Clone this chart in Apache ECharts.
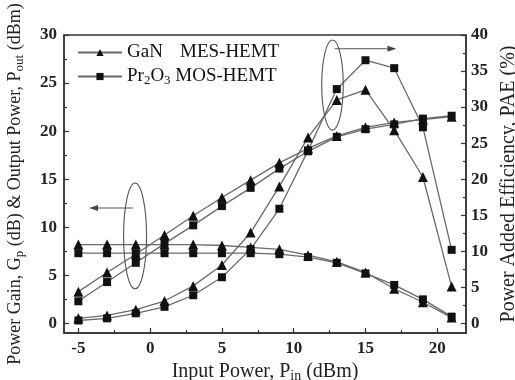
<!DOCTYPE html>
<html><head><meta charset="utf-8">
<script src="https://cdn.jsdelivr.net/npm/echarts@6/dist/echarts.min.js"></script>
<style>html,body{margin:0;padding:0;background:#fff}#c{width:515px;height:380px}</style>
</head><body><div id="c"></div>
<script>
// Input power (dBm)
const pin = [-5, -3, -1, 1, 3, 5, 7, 9, 11, 13, 15, 17, 19, 21];
// GaN MES-HEMT
const ganGain = [8.2, 8.2, 8.2, 8.2, 8.2, 8.1, 7.9, 7.7, 7.1, 6.4, 5.3, 3.6, 2.2, 0.6];
const ganPout = [3.3, 5.3, 7.2, 9.2, 11.2, 13.1, 14.9, 16.7, 18.2, 19.5, 20.4, 20.9, 21.2, 21.5];
const ganPAE  = [0.7, 1.1, 1.9, 3.1, 5.2, 8.1, 12.6, 19.0, 25.8, 31.0, 32.4, 26.8, 20.3, 5.1];
// Pr2O3 MOS-HEMT
const prGain = [7.3, 7.3, 7.3, 7.3, 7.3, 7.3, 7.3, 7.2, 6.9, 6.3, 5.2, 4.0, 2.5, 0.7];
const prPout = [2.3, 4.3, 6.3, 8.3, 10.2, 12.2, 14.1, 16.1, 17.9, 19.4, 20.2, 20.7, 21.3, 21.6];
const prPAE  = [0.4, 0.7, 1.4, 2.3, 3.9, 6.4, 10.3, 15.9, 24.0, 32.5, 36.5, 35.4, 27.2, 10.2];
// ticks
const xTicks = [-5, 0, 5, 10, 15, 20];
const xMinor = [-2.5, 2.5, 7.5, 12.5, 17.5];
const yLTicks = [0, 5, 10, 15, 20, 25, 30];
const yLMinor = [2.5, 7.5, 12.5, 17.5, 22.5, 27.5];
const yRTicks = [0, 5, 10, 15, 20, 25, 30, 35, 40];
const yRMinor = [2.5, 7.5, 12.5, 17.5, 22.5, 27.5, 32.5, 37.5];

const FF = 'Liberation Serif';
const AX = '#333';
const pair = (ys) => pin.map((x, i) => [x, ys[i]]);
const chart = echarts.init(document.getElementById('c'));

const subRich = (fs) => ({ s: { fontFamily: FF, fontSize: fs, verticalAlign: 'bottom', padding: [8, 0, 0, 0], color: '#222' } });
const baseAxisLine = { show: true, onZero: false, lineStyle: { color: AX, width: 1.5 } };
const noLine = { show: false, onZero: false };

function mkSeries(name, data, sym, yIdx, size) {
  return {
    name, type: 'line', data: pair(data), yAxisIndex: yIdx, xAxisIndex: 0,
    symbol: sym, symbolSize: size, showSymbol: true,
    lineStyle: { color: '#6a6a6a', width: 1.3 },
    itemStyle: { color: '#111' }, animation: false
  };
}

const xMin = -6, xMax = 22, yLMin = -1, yLMax = 30, yRMin = -4 / 3, yRMax = 40;
const tickLbl = (m) => ({ margin: m, fontFamily: FF, fontWeight: 'bold', fontSize: 17, color: '#222' });

chart.setOption({
  animation: false,
  grid: { left: 64, right: 49, top: 35, bottom: 47, containLabel: false, outerBoundsMode: 'none',
    show: true, borderColor: AX, borderWidth: 1.5, backgroundColor: 'transparent' },
  legend: {
    left: 72, top: 38, orient: 'vertical', itemWidth: 44, itemHeight: 9, itemGap: 5,
    data: ['GaN', 'Pr2O3'],
    textStyle: { fontFamily: FF, fontSize: 19, color: '#111',
      rich: {
        a: { fontFamily: FF, fontSize: 19, width: 53 },
        b: { fontFamily: FF, fontSize: 19 },
        s: { fontFamily: FF, fontSize: 13, verticalAlign: 'bottom', padding: [9, 0, 0, 0] }
      } },
    formatter: (n) => n === 'GaN' ? '{a|GaN}{b|MES-HEMT}' : '{b|Pr}{s|2}{b|O}{s|3}{b| MOS-HEMT}'
  },
  xAxis: [
    { type: 'value', min: xMin, max: xMax, position: 'bottom',
      name: 'Input Power, P{s|in} (dBm)', nameLocation: 'middle', nameGap: 24,
      nameTextStyle: { fontFamily: FF, fontSize: 20, color: '#222', rich: subRich(14) },
      axisLine: baseAxisLine, splitLine: { show: false },
      axisTick: { show: true, inside: true, length: 5, customValues: xTicks, lineStyle: { color: AX, width: 1.2 } },
      axisLabel: Object.assign({ customValues: xTicks }, tickLbl(7)) },
    { type: 'value', min: xMin, max: xMax, position: 'bottom', offset: 0,
      axisLine: noLine, splitLine: { show: false },
      axisTick: { show: true, inside: true, length: 3, customValues: xMinor, lineStyle: { color: AX, width: 1.2 } },
      axisLabel: { show: false } }
  ],
  yAxis: [
    { type: 'value', min: yLMin, max: yLMax, position: 'left',
      name: 'Power Gain, G{s|p} (dB) & Output Power, P{s|out} (dBm)', nameLocation: 'middle', nameGap: 38, nameRotate: 90,
      nameTextStyle: { fontFamily: FF, fontSize: 18, color: '#222', rich: subRich(13) },
      axisLine: baseAxisLine, splitLine: { show: false },
      axisTick: { show: true, inside: true, length: 5, customValues: yLTicks, lineStyle: { color: AX, width: 1.2 } },
      axisLabel: Object.assign({ customValues: yLTicks }, tickLbl(7)) },
    { type: 'value', min: yRMin, max: yRMax, position: 'right',
      name: 'Power Added Efficiency, PAE (%)', nameLocation: 'middle', nameGap: 32, nameRotate: 90,
      nameTextStyle: { fontFamily: FF, fontSize: 20, color: '#222' },
      axisLine: baseAxisLine, splitLine: { show: false },
      axisTick: { show: true, inside: true, length: 5, customValues: yRTicks, lineStyle: { color: AX, width: 1.2 } },
      axisLabel: Object.assign({ customValues: yRTicks }, tickLbl(5)) },
    { type: 'value', min: yLMin, max: yLMax, position: 'left', offset: 0,
      axisLine: noLine, splitLine: { show: false },
      axisTick: { show: true, inside: true, length: 3, customValues: yLMinor, lineStyle: { color: AX, width: 1.2 } },
      axisLabel: { show: false } },
    { type: 'value', min: yRMin, max: yRMax, position: 'right', offset: 0,
      axisLine: noLine, splitLine: { show: false },
      axisTick: { show: true, inside: true, length: 3, customValues: yRMinor, lineStyle: { color: AX, width: 1.2 } },
      axisLabel: { show: false } }
  ],
  series: [
    mkSeries('GaN', ganGain, 'triangle', 0, 10),
    mkSeries('GaN', ganPout, 'triangle', 0, 10),
    mkSeries('GaN', ganPAE, 'triangle', 1, 10),
    mkSeries('Pr2O3', prGain, 'rect', 0, 8),
    mkSeries('Pr2O3', prPout, 'rect', 0, 8),
    mkSeries('Pr2O3', prPAE, 'rect', 1, 8)
  ]
});

// annotations: ellipses grouping curves and arrows pointing to their axes
function px(x, y, yIdx) { return chart.convertToPixel({ xAxisIndex: 0, yAxisIndex: yIdx }, [x, y]); }
function ellipse(x0, x1, y0, y1, yIdx) {
  const a = px(x0, y0, yIdx), b = px(x1, y1, yIdx);
  return { type: 'ellipse', shape: { cx: (a[0] + b[0]) / 2, cy: (a[1] + b[1]) / 2, rx: Math.abs(b[0] - a[0]) / 2, ry: Math.abs(b[1] - a[1]) / 2 },
    style: { fill: 'none', stroke: '#555', lineWidth: 1.1 }, z: 10 };
}
function arrow(xFrom, xTo, y, yIdx) {
  const a = px(xFrom, y, yIdx), b = px(xTo, y, yIdx);
  const dir = Math.sign(b[0] - a[0]);
  const hl = 9, hw = 3;
  return [
    { type: 'line', shape: { x1: a[0], y1: a[1], x2: b[0] - dir * hl, y2: b[1] }, style: { stroke: '#555', lineWidth: 1.1 }, z: 10 },
    { type: 'polygon', shape: { points: [[b[0], b[1]], [b[0] - dir * hl, b[1] - hw], [b[0] - dir * hl, b[1] + hw]] }, style: { fill: '#444' }, z: 10 }
  ];
}
chart.setOption({ graphic: [
  ellipse(-1.85, -0.25, 3.6, 14.6, 0),
  ...arrow(-1.2, -4.25, 12.0, 0),
  ellipse(11.95, 13.45, 26.8, 39.3, 1),
  ...arrow(12.85, 17.15, 38.1, 1)
] });
</script></body></html>
